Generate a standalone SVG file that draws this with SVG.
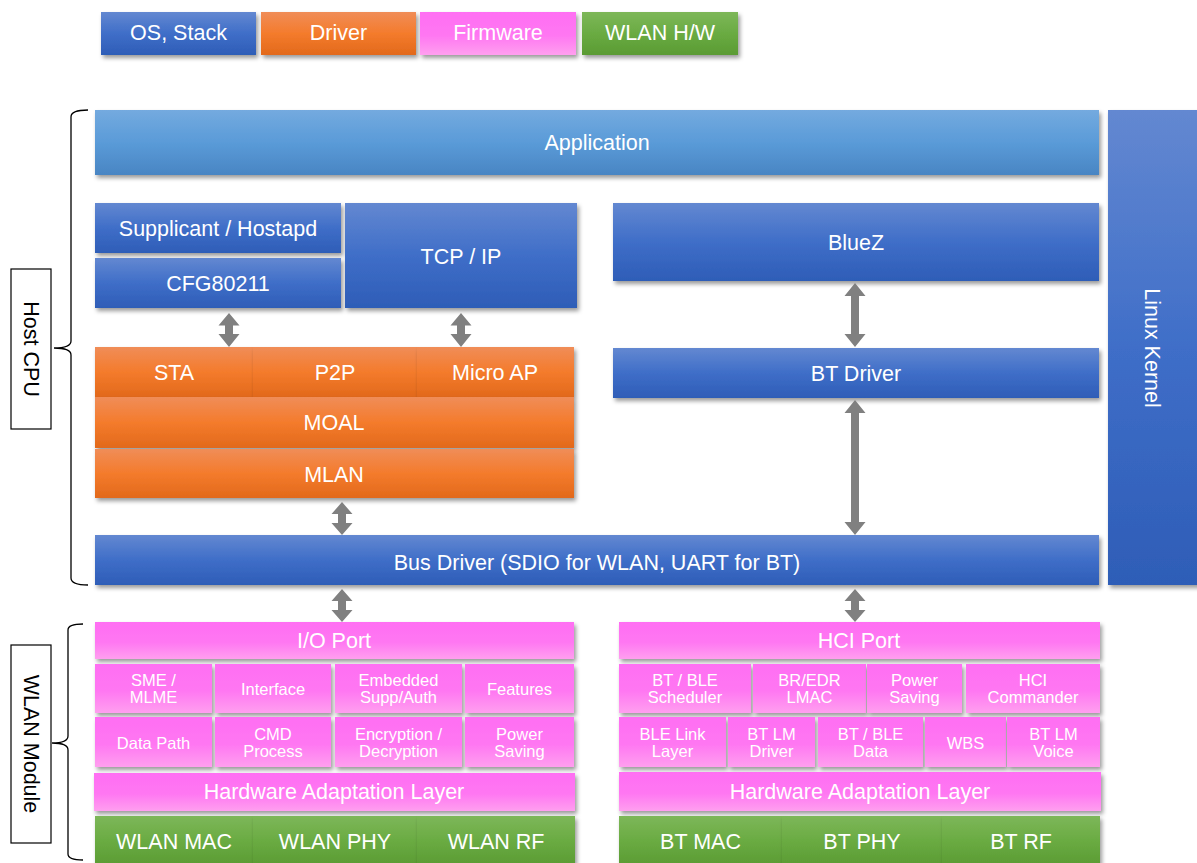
<svg xmlns="http://www.w3.org/2000/svg" width="1197" height="863" viewBox="0 0 1197 863">
<defs>
<linearGradient id="gBlue" x1="0" y1="0" x2="0" y2="1"><stop offset="0" stop-color="#6388d1"/><stop offset="0.5" stop-color="#3f6ec8"/><stop offset="1" stop-color="#2e5db7"/></linearGradient>
<linearGradient id="gApp" x1="0" y1="0" x2="0" y2="1"><stop offset="0" stop-color="#74aadf"/><stop offset="0.5" stop-color="#5a9bd8"/><stop offset="1" stop-color="#4985c3"/></linearGradient>
<linearGradient id="gOrange" x1="0" y1="0" x2="0" y2="1"><stop offset="0" stop-color="#f08d58"/><stop offset="0.5" stop-color="#f47b2c"/><stop offset="1" stop-color="#e2691b"/></linearGradient>
<linearGradient id="gPink" x1="0" y1="0" x2="0" y2="1"><stop offset="0" stop-color="#ff6ef3"/><stop offset="0.55" stop-color="#ff77f2"/><stop offset="1" stop-color="#ff9fef"/></linearGradient>
<linearGradient id="gGreen" x1="0" y1="0" x2="0" y2="1"><stop offset="0" stop-color="#7db759"/><stop offset="0.5" stop-color="#6aab42"/><stop offset="1" stop-color="#5a9b33"/></linearGradient>
<filter id="sh" x="-5%" y="-20%" width="115%" height="150%"><feDropShadow dx="2" dy="3" stdDeviation="2" flood-color="#000" flood-opacity="0.4"/></filter>
</defs>
<style>
.b{fill:url(#gBlue);filter:url(#sh)}
.a{fill:url(#gApp);filter:url(#sh)}
.o{fill:url(#gOrange);filter:url(#sh)}
.p{fill:url(#gPink);filter:url(#sh)}
.g{fill:url(#gGreen);filter:url(#sh)}
text{font-family:"Liberation Sans",Arial,sans-serif;font-size:21.5px;fill:#fff;text-anchor:middle;dominant-baseline:central}
text.s{font-size:16.5px}
text.k{fill:#000}
.arr{fill:#808080}
.br{fill:none;stroke:#000;stroke-width:1.3}
.lbl{fill:#fff;stroke:#000;stroke-width:1.2}
</style>

<g id="legend">
<g id="leg-os"><rect class="b" x="101" y="12" width="155" height="43"/><text x="178.5" y="33">OS, Stack</text></g>
<g id="leg-driver"><rect class="o" x="261" y="12" width="155" height="43"/><text x="338.5" y="33">Driver</text></g>
<g id="leg-fw"><rect class="p" x="420" y="12" width="156" height="43"/><text x="498" y="33">Firmware</text></g>
<g id="leg-hw"><rect class="g" x="582" y="12" width="156" height="43"/><text x="660" y="33">WLAN H/W</text></g>
</g>

<g id="host-cpu-label">
<path class="br" d="M88 110 Q71 110 71 117 L71 341 Q71 348 54 348 Q71 348 71 355 L71 578 Q71 585 88 585"/>
<rect class="lbl" x="11" y="269" width="40" height="160"/>
<text class="k" transform="translate(31 349) rotate(90)">Host CPU</text>
</g>
<g id="wlan-module-label">
<path class="br" d="M83 624 Q68 624 68 630 L68 736 Q68 743 52 743 Q68 743 68 750 L68 854 Q68 860 83 860"/>
<rect class="lbl" x="11" y="645" width="40" height="198"/>
<text class="k" transform="translate(31 744) rotate(90)">WLAN Module</text>
</g>

<g id="application"><rect class="a" x="95" y="110" width="1004" height="65"/><text x="597" y="143">Application</text></g>
<g id="linux-kernel"><rect class="b" x="1108" y="110" width="92" height="475"/><text transform="translate(1152 348) rotate(90)">Linux Kernel</text></g>
<g id="supplicant"><rect class="b" x="95" y="203" width="246" height="50"/><text x="218" y="229">Supplicant / Hostapd</text></g>
<g id="cfg80211"><rect class="b" x="95" y="258" width="246" height="50"/><text x="218" y="284">CFG80211</text></g>
<g id="tcpip"><rect class="b" x="345" y="203" width="232" height="105"/><text x="461" y="257">TCP / IP</text></g>
<g id="bluez"><rect class="b" x="613" y="203" width="486" height="78"/><text x="856" y="243">BlueZ</text></g>
<g id="bt-driver"><rect class="b" x="613" y="348" width="486" height="50"/><text x="856" y="374">BT Driver</text></g>
<g id="sta"><rect class="o" x="95" y="347" width="158" height="50"/><text x="174" y="373">STA</text></g>
<g id="p2p"><rect class="o" x="253" y="347" width="164" height="50"/><text x="335" y="373">P2P</text></g>
<g id="microap"><rect class="o" x="417" y="347" width="157" height="50"/><text x="495" y="373">Micro AP</text></g>
<g id="moal"><rect class="o" x="95" y="397" width="479" height="51"/><text x="334" y="423">MOAL</text></g>
<g id="mlan"><rect class="o" x="95" y="449" width="479" height="49"/><text x="334" y="475">MLAN</text></g>
<g id="bus-driver"><rect class="b" x="95" y="535" width="1004" height="50"/><text x="597" y="563">Bus Driver (SDIO for WLAN, UART for BT)</text></g>

<g id="wlan-fw">
<g id="io-port"><rect class="p" x="95" y="622" width="479" height="37"/><text x="334" y="641">I/O Port</text></g>
<g id="sme"><rect class="p" x="95" y="664" width="117" height="49"/><text class="s" x="153.5" y="680">SME /</text><text class="s" x="153.5" y="697">MLME</text></g>
<g id="interface"><rect class="p" x="215" y="664" width="116" height="49"/><text class="s" x="273" y="689">Interface</text></g>
<g id="embedded"><rect class="p" x="335" y="664" width="127" height="49"/><text class="s" x="398.5" y="680">Embedded</text><text class="s" x="398.5" y="697">Supp/Auth</text></g>
<g id="features"><rect class="p" x="465" y="664" width="109" height="49"/><text class="s" x="519.5" y="689">Features</text></g>
<g id="datapath"><rect class="p" x="95" y="717" width="117" height="50"/><text class="s" x="153.5" y="743">Data Path</text></g>
<g id="cmd"><rect class="p" x="215" y="717" width="116" height="50"/><text class="s" x="273" y="734">CMD</text><text class="s" x="273" y="751">Process</text></g>
<g id="encryption"><rect class="p" x="335" y="717" width="127" height="50"/><text class="s" x="398.5" y="734">Encryption /</text><text class="s" x="398.5" y="751">Decryption</text></g>
<g id="wlan-power"><rect class="p" x="465" y="717" width="109" height="50"/><text class="s" x="519.5" y="734">Power</text><text class="s" x="519.5" y="751">Saving</text></g>
<g id="wlan-hal"><rect class="p" x="94" y="773" width="481" height="38"/><text x="334" y="792">Hardware Adaptation Layer</text></g>
<g id="wlan-mac"><rect class="g" x="95" y="816" width="158" height="50"/><text x="174" y="842">WLAN MAC</text></g>
<g id="wlan-phy"><rect class="g" x="253" y="816" width="164" height="50"/><text x="335" y="842">WLAN PHY</text></g>
<g id="wlan-rf"><rect class="g" x="417" y="816" width="158" height="50"/><text x="496" y="842">WLAN RF</text></g>
</g>

<g id="bt-fw">
<g id="hci-port"><rect class="p" x="619" y="622" width="481" height="37"/><text x="859" y="641">HCI Port</text></g>
<g id="scheduler"><rect class="p" x="619" y="664" width="132" height="49"/><text class="s" x="685" y="680">BT / BLE</text><text class="s" x="685" y="697">Scheduler</text></g>
<g id="lmac"><rect class="p" x="753" y="664" width="113" height="49"/><text class="s" x="809.5" y="680">BR/EDR</text><text class="s" x="809.5" y="697">LMAC</text></g>
<g id="bt-power"><rect class="p" x="867" y="664" width="95" height="49"/><text class="s" x="914.5" y="680">Power</text><text class="s" x="914.5" y="697">Saving</text></g>
<g id="hci-cmd"><rect class="p" x="966" y="664" width="134" height="49"/><text class="s" x="1033" y="680">HCI</text><text class="s" x="1033" y="697">Commander</text></g>
<g id="ble-link"><rect class="p" x="619" y="717" width="107" height="50"/><text class="s" x="672.5" y="734">BLE Link</text><text class="s" x="672.5" y="751">Layer</text></g>
<g id="lm-driver"><rect class="p" x="728" y="717" width="87" height="50"/><text class="s" x="771.5" y="734">BT LM</text><text class="s" x="771.5" y="751">Driver</text></g>
<g id="ble-data"><rect class="p" x="818" y="717" width="105" height="50"/><text class="s" x="870.5" y="734">BT / BLE</text><text class="s" x="870.5" y="751">Data</text></g>
<g id="wbs"><rect class="p" x="925" y="717" width="81" height="50"/><text class="s" x="965.5" y="743">WBS</text></g>
<g id="lm-voice"><rect class="p" x="1007" y="717" width="93" height="50"/><text class="s" x="1053.5" y="734">BT LM</text><text class="s" x="1053.5" y="751">Voice</text></g>
<g id="bt-hal"><rect class="p" x="619" y="772" width="482" height="39"/><text x="860" y="792">Hardware Adaptation Layer</text></g>
<g id="bt-mac"><rect class="g" x="619" y="816" width="163" height="50"/><text x="700.5" y="842">BT MAC</text></g>
<g id="bt-phy"><rect class="g" x="782" y="816" width="160" height="50"/><text x="862" y="842">BT PHY</text></g>
<g id="bt-rf"><rect class="g" x="942" y="816" width="158" height="50"/><text x="1021" y="842">BT RF</text></g>
</g>

<g id="connectors">
<polygon class="arr" points="229,313 239.5,325.5 233,325.5 233,334 239.5,334 229,347 218.5,334 225,334 225,325.5 218.5,325.5"/>
<polygon class="arr" points="461,313 471.5,325.5 465,325.5 465,334 471.5,334 461,347 450.5,334 457,334 457,325.5 450.5,325.5"/>
<polygon class="arr" points="855,283 865.5,296 859,296 859,334 865.5,334 855,347 844.5,334 851,334 851,296 844.5,296"/>
<polygon class="arr" points="855,400 865.5,413 859,413 859,522 865.5,522 855,535 844.5,522 851,522 851,413 844.5,413"/>
<polygon class="arr" points="342,502 352.5,514 346,514 346,523 352.5,523 342,535 331.5,523 338,523 338,514 331.5,514"/>
<polygon class="arr" points="342,589 352.5,601 346,601 346,610 352.5,610 342,622 331.5,610 338,610 338,601 331.5,601"/>
<polygon class="arr" points="855,589 865.5,601 859,601 859,610 865.5,610 855,622 844.5,610 851,610 851,601 844.5,601"/>
</g>
</svg>
